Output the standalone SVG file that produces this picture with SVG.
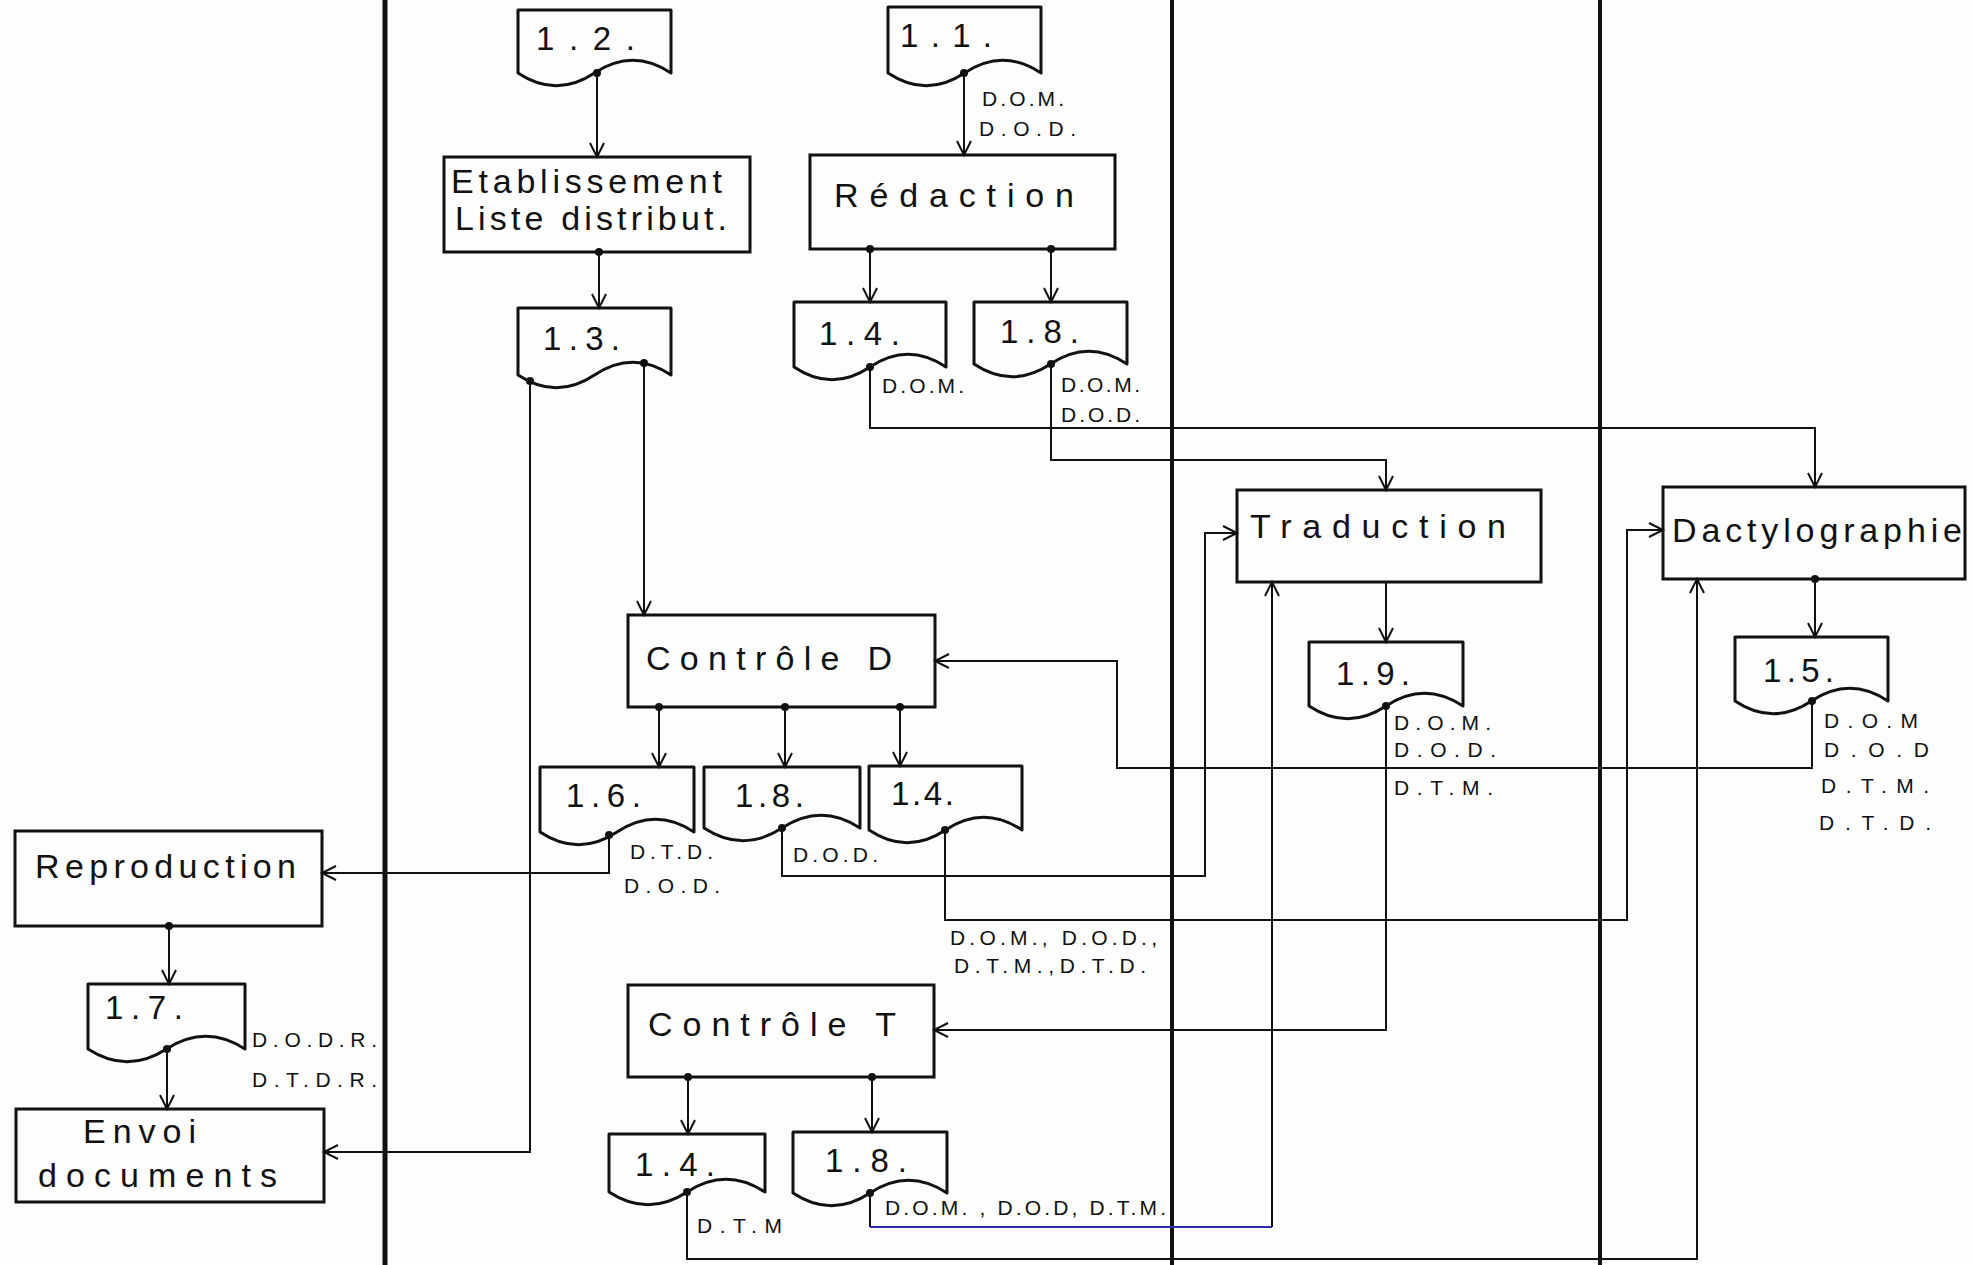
<svg xmlns="http://www.w3.org/2000/svg" width="1972" height="1265" viewBox="0 0 1972 1265">
<style>
.bg{fill:#fdfdfd}
.lane{stroke:#111;fill:none}
.box{fill:none;stroke:#111;stroke-width:3}
.doc{fill:none;stroke:#111;stroke-width:3;stroke-linejoin:round}
.c{fill:none;stroke:#111;stroke-width:2}
.blue{fill:none;stroke:#2b2bb0;stroke-width:2}
.dot{fill:#111}
.big{font-family:"Liberation Sans",Arial,sans-serif;font-size:34px;fill:#111}
.num{font-family:"Liberation Sans",Arial,sans-serif;font-size:33px;fill:#111}
.sm{font-family:"Liberation Sans",Arial,sans-serif;font-size:21px;fill:#111}
</style>
<defs>
<marker id="ah" viewBox="-16 -10 20 20" markerWidth="20" markerHeight="20" refX="0" refY="0" orient="auto" markerUnits="userSpaceOnUse">
<path d="M-14,-7 L0,0 L-14,7" fill="none" stroke="#111" stroke-width="2"/>
</marker>
</defs>
<rect class="bg" x="0" y="0" width="1972" height="1265"/>

<g id="lanes">
<line class="lane" x1="385" y1="0" x2="385" y2="1265" stroke-width="5"/>
<line class="lane" x1="1172" y1="0" x2="1172" y2="1265" stroke-width="4"/>
<line class="lane" x1="1600" y1="0" x2="1600" y2="1265" stroke-width="4"/>
</g>

<g id="connectors">
<polyline class="c" points="597,73 597,157" marker-end="url(#ah)"/>
<polyline class="c" points="599,252 599,308" marker-end="url(#ah)"/>
<polyline class="c" points="964,73 964,155" marker-end="url(#ah)"/>
<polyline class="c" points="870,249 870,302" marker-end="url(#ah)"/>
<polyline class="c" points="1051,249 1051,302" marker-end="url(#ah)"/>
<polyline class="c" points="870,367 870,428 1815,428 1815,487" marker-end="url(#ah)"/>
<polyline class="c" points="1051,364 1051,460 1386,460 1386,490" marker-end="url(#ah)"/>
<polyline class="c" points="530,381 530,1152 324,1152" marker-end="url(#ah)"/>
<polyline class="c" points="644,363 644,615" marker-end="url(#ah)"/>
<polyline class="c" points="1386,582 1386,642" marker-end="url(#ah)"/>
<polyline class="c" points="1815,579 1815,637" marker-end="url(#ah)"/>
<polyline class="c" points="1812,701 1812,768 1117,768 1117,661 935,661" marker-end="url(#ah)"/>
<polyline class="c" points="659,707 659,767" marker-end="url(#ah)"/>
<polyline class="c" points="785,707 785,767" marker-end="url(#ah)"/>
<polyline class="c" points="900,707 900,766" marker-end="url(#ah)"/>
<polyline class="c" points="609,835 609,873 322,873" marker-end="url(#ah)"/>
<polyline class="c" points="782,828 782,876 1205,876 1205,533 1237,533" marker-end="url(#ah)"/>
<polyline class="c" points="945,830 945,920 1627,920 1627,530 1663,530" marker-end="url(#ah)"/>
<polyline class="c" points="1386,706 1386,1030 934,1030" marker-end="url(#ah)"/>
<polyline class="c" points="169,926 169,984" marker-end="url(#ah)"/>
<polyline class="c" points="167,1049 167,1109" marker-end="url(#ah)"/>
<polyline class="c" points="688,1077 688,1134" marker-end="url(#ah)"/>
<polyline class="c" points="872,1077 872,1132" marker-end="url(#ah)"/>
<polyline class="c" points="687,1192 687,1259 1697,1259 1697,579" marker-end="url(#ah)"/>
<polyline class="c" points="870,1193 870,1227"/>
<polyline class="blue" points="870,1227 1272,1227"/>
<polyline class="c" points="1272,1227 1272,582" marker-end="url(#ah)"/>
<g class="dot">
<circle cx="597" cy="73" r="4"/><circle cx="599" cy="252" r="4"/><circle cx="964" cy="73" r="4"/>
<circle cx="870" cy="249" r="4"/><circle cx="1051" cy="249" r="4"/><circle cx="870" cy="367" r="4"/>
<circle cx="1051" cy="364" r="4"/><circle cx="530" cy="381" r="4"/><circle cx="644" cy="363" r="4"/>
<circle cx="1815" cy="579" r="4"/><circle cx="1812" cy="701" r="4"/><circle cx="659" cy="707" r="4"/>
<circle cx="785" cy="707" r="4"/><circle cx="900" cy="707" r="4"/><circle cx="609" cy="835" r="4"/>
<circle cx="782" cy="828" r="4"/><circle cx="945" cy="830" r="4"/><circle cx="1386" cy="706" r="4"/>
<circle cx="169" cy="926" r="4"/><circle cx="167" cy="1049" r="4"/><circle cx="688" cy="1077" r="4"/>
<circle cx="872" cy="1077" r="4"/><circle cx="687" cy="1192" r="4"/><circle cx="870" cy="1193" r="4"/>
</g>
</g>

<g id="doc-1-2"><path class="doc" d="M518 10 h153 v63 c-25.5,-17 -51,-17 -76.5,0 c-25.5,17 -51,17 -76.5,0 z"/><text class="num" x="536" y="50" textLength="99" lengthAdjust="spacing">1.2.</text></g>
<g id="doc-1-1"><path class="doc" d="M888 7 h153 v66 c-25.5,-17 -51,-17 -76.5,0 c-25.5,17 -51,17 -76.5,0 z"/><text class="num" x="900" y="47" textLength="92" lengthAdjust="spacing">1.1.</text>
<text class="sm" x="982" y="106" textLength="82" lengthAdjust="spacing">D.O.M.</text><text class="sm" x="979" y="136" textLength="97" lengthAdjust="spacing">D.O.D.</text></g>
<g id="etablissement"><rect class="box" x="444" y="157" width="306" height="95"/><text class="big" x="451" y="193" font-size="30" textLength="271" lengthAdjust="spacing">Etablissement</text><text class="big" x="455" y="230" font-size="30" textLength="272" lengthAdjust="spacing">Liste distribut.</text></g>
<g id="redaction"><rect class="box" x="810" y="155" width="305" height="94"/><text class="big" x="834" y="207" textLength="240" lengthAdjust="spacing">Rédaction</text></g>
<g id="doc-1-3"><path class="doc" d="M518 308 h153 v67 c-25.5,-17 -51,-17 -76.5,0 c-25.5,17 -51,17 -76.5,0 z"/><text class="num" x="543" y="350" textLength="77" lengthAdjust="spacing">1.3.</text></g>
<g id="doc-1-4a"><path class="doc" d="M794 302 h152 v65 c-25.3,-17 -50.7,-17 -76,0 c-25.3,17 -50.7,17 -76,0 z"/><text class="num" x="819" y="345" textLength="81" lengthAdjust="spacing">1.4.</text>
<text class="sm" x="882" y="393" textLength="82" lengthAdjust="spacing">D.O.M.</text></g>
<g id="doc-1-8a"><path class="doc" d="M974 302 h153 v62 c-25.5,-17 -51,-17 -76.5,0 c-25.5,17 -51,17 -76.5,0 z"/><text class="num" x="1000" y="343" textLength="79" lengthAdjust="spacing">1.8.</text>
<text class="sm" x="1061" y="392" textLength="79" lengthAdjust="spacing">D.O.M.</text><text class="sm" x="1061" y="422" textLength="79" lengthAdjust="spacing">D.O.D.</text></g>
<g id="traduction"><rect class="box" x="1237" y="490" width="304" height="92"/><text class="big" x="1250" y="538" textLength="256" lengthAdjust="spacing">Traduction</text></g>
<g id="dactylographie"><rect class="box" x="1663" y="487" width="302" height="92"/><text class="big" x="1672" y="542" font-size="32" textLength="290" lengthAdjust="spacing">Dactylographie</text></g>
<g id="doc-1-9"><path class="doc" d="M1309 642 h154 v64 c-25.7,-17 -51.3,-17 -77,0 c-25.7,17 -51.3,17 -77,0 z"/><text class="num" x="1336" y="685" textLength="74" lengthAdjust="spacing">1.9.</text>
<text class="sm" x="1394" y="730" textLength="97" lengthAdjust="spacing">D.O.M.</text><text class="sm" x="1394" y="757" textLength="102" lengthAdjust="spacing">D.O.D.</text><text class="sm" x="1394" y="795" textLength="99" lengthAdjust="spacing">D.T.M.</text></g>
<g id="doc-1-5"><path class="doc" d="M1735 637 h153 v64 c-25.5,-17 -51,-17 -76.5,0 c-25.5,17 -51,17 -76.5,0 z"/><text class="num" x="1763" y="682" textLength="71" lengthAdjust="spacing">1.5.</text>
<text class="sm" x="1824" y="728" textLength="94" lengthAdjust="spacing">D.O.M</text><text class="sm" x="1824" y="757" textLength="105" lengthAdjust="spacing">D.O.D</text><text class="sm" x="1821" y="793" textLength="108" lengthAdjust="spacing">D.T.M.</text><text class="sm" x="1819" y="830" textLength="112" lengthAdjust="spacing">D.T.D.</text></g>
<g id="controle-d"><rect class="box" x="628" y="615" width="307" height="92"/><text class="big" x="646" y="670" textLength="246" lengthAdjust="spacing">Contrôle D</text></g>
<g id="doc-1-6"><path class="doc" d="M540 767 h154 v65 c-25.7,-17 -51.3,-17 -77,0 c-25.7,17 -51.3,17 -77,0 z"/><text class="num" x="566" y="807" textLength="75" lengthAdjust="spacing">1.6.</text>
<text class="sm" x="630" y="859" textLength="83" lengthAdjust="spacing">D.T.D.</text><text class="sm" x="624" y="893" textLength="96" lengthAdjust="spacing">D.O.D.</text></g>
<g id="doc-1-8b"><path class="doc" d="M704 767 h156 v61 c-26,-17 -52,-17 -78,0 c-26,17 -52,17 -78,0 z"/><text class="num" x="735" y="807" textLength="69" lengthAdjust="spacing">1.8.</text>
<text class="sm" x="793" y="862" textLength="85" lengthAdjust="spacing">D.O.D.</text></g>
<g id="doc-1-4b"><path class="doc" d="M869 766 h153 v64 c-25.5,-17 -51,-17 -76.5,0 c-25.5,17 -51,17 -76.5,0 z"/><text class="num" x="891" y="805" textLength="63" lengthAdjust="spacing">1.4.</text>
<text class="sm" x="950" y="945" textLength="207" lengthAdjust="spacing">D.O.M., D.O.D.,</text><text class="sm" x="954" y="973" textLength="192" lengthAdjust="spacing">D.T.M.,D.T.D.</text></g>
<g id="reproduction"><rect class="box" x="15" y="831" width="307" height="95"/><text class="big" x="35" y="878" textLength="261" lengthAdjust="spacing">Reproduction</text></g>
<g id="doc-1-7"><path class="doc" d="M88 984 h157 v65 c-26.2,-17 -52.3,-17 -78.5,0 c-26.2,17 -52.3,17 -78.5,0 z"/><text class="num" x="105" y="1019" textLength="78" lengthAdjust="spacing">1.7.</text>
<text class="sm" x="252" y="1047" textLength="125" lengthAdjust="spacing">D.O.D.R.</text><text class="sm" x="252" y="1087" textLength="125" lengthAdjust="spacing">D.T.D.R.</text></g>
<g id="envoi"><rect class="box" x="16" y="1109" width="308" height="93"/><text class="big" x="83" y="1143" textLength="113" lengthAdjust="spacing">Envoi</text><text class="big" x="38" y="1187" textLength="239" lengthAdjust="spacing">documents</text></g>
<g id="controle-t"><rect class="box" x="628" y="985" width="306" height="92"/><text class="big" x="648" y="1036" textLength="248" lengthAdjust="spacing">Contrôle T</text></g>
<g id="doc-1-4c"><path class="doc" d="M609 1134 h156 v58 c-26,-17 -52,-17 -78,0 c-26,17 -52,17 -78,0 z"/><text class="num" x="635" y="1176" textLength="80" lengthAdjust="spacing">1.4.</text>
<text class="sm" x="697" y="1233" textLength="85" lengthAdjust="spacing">D.T.M</text></g>
<g id="doc-1-8c"><path class="doc" d="M793 1132 h154 v61 c-25.7,-17 -51.3,-17 -77,0 c-25.7,17 -51.3,17 -77,0 z"/><text class="num" x="825" y="1172" textLength="82" lengthAdjust="spacing">1.8.</text>
<text class="sm" x="885" y="1215" textLength="281" lengthAdjust="spacing">D.O.M. , D.O.D, D.T.M.</text></g>
</svg>
